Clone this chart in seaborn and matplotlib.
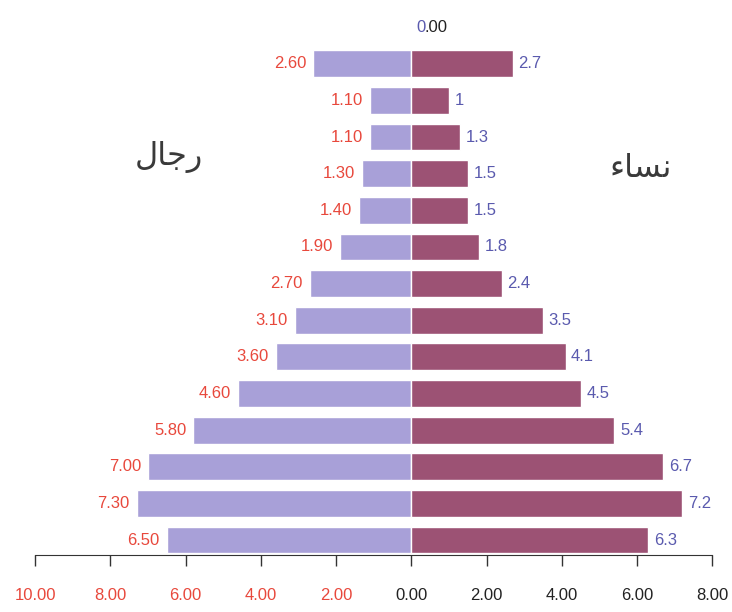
import matplotlib
matplotlib.use("Agg")
import matplotlib.pyplot as plt
import seaborn as sns
import pandas as pd

# rows listed top to bottom (youngest group at the bottom of the pyramid)
groups = ["g15", "g14", "g13", "g12", "g11", "g10", "g9", "g8",
          "g7", "g6", "g5", "g4", "g3", "g2", "g1"]
men = [0.00, 2.60, 1.10, 1.10, 1.30, 1.40, 1.90, 2.70,
       3.10, 3.60, 4.60, 5.80, 7.00, 7.30, 6.50]
women = [0, 2.7, 1, 1.3, 1.5, 1.5, 1.8, 2.4,
         3.5, 4.1, 4.5, 5.4, 6.7, 7.2, 6.3]
xticks = [-10, -8, -6, -4, -2, 0, 2, 4, 6, 8]

# Arabic labels written in presentation forms (visual order) so they join without a shaper
men_title = "\uFEDD\uFE8E\uFE9F\uFEAD"      # رجال
women_title = "\uFE80\uFE8E\uFEB4\uFEE7"    # نساء

df = pd.DataFrame({"group": groups, "men": [-v for v in men], "women": women})

sns.set_style("white")
plt.rcParams["font.family"] = ["Liberation Sans Narrow", "Liberation Sans", "DejaVu Sans"]

fig = plt.figure(figsize=(7.32, 6.12), dpi=100)
ax = fig.add_axes([0.048, 0.093, 0.925, 0.907])

lav = "#A8A0D8"
maroon = "#9C5274"
red = "#E8483C"
blue = "#5A5AAE"

sns.barplot(data=df, x="men", y="group", orient="h", color=lav, saturation=1,
            width=0.73, ax=ax)
sns.barplot(data=df, x="women", y="group", orient="h", color=maroon, saturation=1,
            width=0.73, ax=ax)

men_bars, women_bars = ax.containers[0], ax.containers[1]

# top row: blue "0" (women) followed by black ".00" (men) on the same spot
top = women_bars[0]
ax.annotate(".00", xy=(top.get_width(), top.get_y() + top.get_height() / 2),
            xytext=(9.6, 0), textcoords="offset points", ha="left", va="center",
            fontsize=12, color="#222222")

ax.bar_label(men_bars, labels=[""] + [f"{v:.2f}" for v in men[1:]],
             padding=5, color=red, fontsize=12)
ax.bar_label(women_bars, labels=[f"{v:g}" for v in women],
             padding=4, color=blue, fontsize=12)

ax.text(-6.45, 3.55, men_title, ha="center", va="center", fontsize=23,
        color="#3a3a3a", family=["DejaVu Sans"])
ax.text(6.1, 3.85, women_title, ha="center", va="center", fontsize=23,
        color="#3a3a3a", family=["DejaVu Sans"])

ax.set_xlim(-10, 8)
ax.set_ylim(14.41, -0.74)
ax.set_xticks(xticks)
ax.set_xticklabels([f"{abs(t):.2f}" for t in xticks], fontsize=12)
for t, lab in zip(xticks, ax.get_xticklabels()):
    lab.set_color(red if t < 0 else "#222222")
ax.tick_params(axis="x", direction="out", length=8, width=1, color="#333333", pad=16,
               bottom=True)
ax.set_yticks([])
ax.set_xlabel("")
ax.set_ylabel("")
sns.despine(ax=ax, left=True, top=True, right=True)
ax.spines["bottom"].set_color("#333333")
ax.grid(False)

fig.savefig("out.png", dpi=100)
